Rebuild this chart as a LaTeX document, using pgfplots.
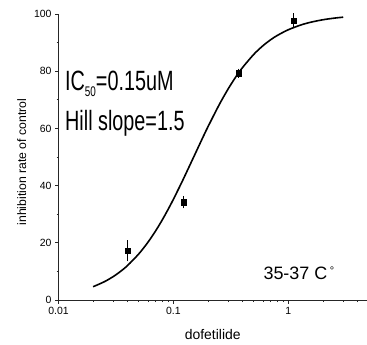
\documentclass[border=0pt]{standalone}
\usepackage{fontspec}
\setmainfont{Liberation Sans}
\newfontfamily\narrowfont[FakeStretch=0.71]{Liberation Sans}
\usepackage{pgfplots}
\pgfplotsset{compat=1.18}
\begin{document}
\begin{tikzpicture}
\begin{semilogxaxis}[
  name=ax,
  scale only axis,
  width=308.5bp, height=286bp,
  xmin=0.01, xmax=4.83, ymin=0, ymax=100,
  axis lines*=left,
  axis line style={line width=0.8bp, black!85},
  tick align=outside,
  major tick length=3.5bp, minor tick length=2bp,
  tick style={line width=0.7bp, black!85},
  xtick={0.01,0.1,1}, xticklabels={0.01,0.1,1},
  minor xtick={0.02,0.03,0.04,0.05,0.06,0.07,0.08,0.09,0.2,0.3,0.4,0.5,0.6,0.7,0.8,0.9,2,3,4},
  ytick={0,20,40,60,80,100}, minor ytick={10,30,50,70,90},
  /pgf/number format/assume math mode=true,
  tick label style={font=\fontsize{10.5}{12}\selectfont},
  xlabel={dofetilide}, ylabel={inhibition rate of control},
  xlabel style={font=\fontsize{14}{16}\selectfont, at={(rel axis cs:0.5,-0.1364)}, anchor=base},
  ylabel style={font=\fontsize{12.3}{14}\selectfont, at={(rel axis cs:-0.1193,0.482)}, anchor=center},
  clip=false,
]
\addplot[black, line width=1.6bp, smooth] coordinates {
(0.02,4.64) (0.025,6.37) (0.03,8.21) (0.035,10.13) (0.04,12.10) (0.05,16.14)
(0.06,20.19) (0.07,24.17) (0.08,28.03) (0.09,31.73) (0.1,35.25) (0.12,41.71)
(0.15,50.00) (0.18,56.80) (0.2,60.62) (0.25,68.27) (0.3,73.88) (0.35,78.09)
(0.4,81.32) (0.5,85.89) (0.6,88.89) (0.7,90.98) (0.8,92.49) (1.0,94.51)
(1.3,96.23) (1.6,97.21) (2.0,97.99) (2.5,98.55) (3.0,98.89)
};
\addplot[black, only marks, mark=square*, mark size=2.6bp,
  error bars/.cd, y dir=both, y explicit,
  error bar style={line width=0.6bp, black},
  error mark options={line width=0.6bp, mark size=2.3bp, black}]
  table[x=x, y=y, y error=e] {
x     y     e
0.040 17.2  2.9
0.122 34.2  1.4
0.367 79.3  0.8
1.105 97.6  1.8
};
\node[anchor=base west, inner sep=0, font=\narrowfont\fontsize{28}{30}\selectfont]
  at (rel axis cs:0.021,0.734) {IC\raisebox{-6.7bp}{\fontsize{14}{14}\selectfont 50}=0.15uM};
\node[anchor=base west, inner sep=0, font=\narrowfont\fontsize{28}{30}\selectfont]
  at (rel axis cs:0.021,0.594) {Hill slope=1.5};
\node[anchor=base west, inner sep=0, font=\fontsize{18}{20}\selectfont]
  at (rel axis cs:0.664,0.070) {35-37 C\hspace{2.5bp}\raisebox{5.4bp}{\fontsize{11}{11}\selectfont °}};
\end{semilogxaxis}
\pgfresetboundingbox
\path[use as bounding box] ([shift={(-58.5bp,-45bp)}]ax.south west) rectangle ([shift={(0bp,14bp)}]ax.north east);
\end{tikzpicture}
\end{document}
